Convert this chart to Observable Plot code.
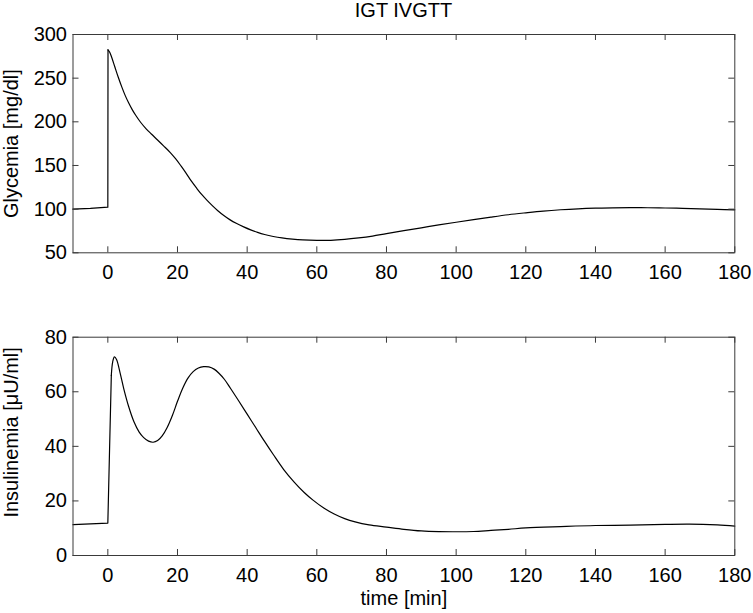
<!DOCTYPE html>
<html>
<head>
<meta charset="utf-8">
<script src="https://cdn.jsdelivr.net/npm/d3@7"></script>
<script src="https://cdn.jsdelivr.net/npm/@observablehq/plot@0.6"></script>
<style>
  html, body { margin: 0; padding: 0; background: #fff; }
  #wrap { position: relative; width: 753px; height: 613px; font-family: "Liberation Sans", Arial, sans-serif; }
  #title { position: absolute; top: 0px; left: 72.5px; width: 662px; text-align: center; font-size: 20px; line-height: 20px; color: #000; }
  .panel { position: absolute; left: 0; }
</style>
</head>
<body>
<div id="wrap">
  <div id="title">IGT IVGTT</div>
  <div id="p1" class="panel" style="top:0px"></div>
  <div id="p2" class="panel" style="top:290px"></div>
</div>
<script>
const title = "IGT IVGTT";
const xLabel = "time [min]";
const glyLabel = "Glycemia [mg/dl]";
const insLabel = "Insulinemia [\u03bcU/ml]";

const xTicks = [0, 20, 40, 60, 80, 100, 120, 140, 160, 180];
const glyTicks = [50, 100, 150, 200, 250, 300];
const insTicks = [0, 20, 40, 60, 80];

// Glycemia [mg/dl] vs time [min]
const glyT = [-10, -5, 0, 0.05, 0.5, 1, 2, 3, 4, 5, 6, 7, 8, 9.4, 11, 12.5, 14.2, 16, 18, 19.5, 21, 22.5, 24, 25.5, 27, 28.5, 30, 31.5, 33.3, 35, 37, 39, 41, 43, 45, 47.5, 50, 53, 56, 60, 64, 68, 72, 76, 80, 85, 90, 95, 100, 105, 110, 115, 120, 125, 130, 135, 140, 145, 150, 155, 160, 165, 170, 175, 180];
const glyV = [100, 100.8, 102.2, 282.5, 280, 275, 263, 251, 240, 230, 221.5, 214, 207.5, 199.5, 192, 186, 179.5, 172.5, 164.5, 157.5, 149.5, 141, 132, 124, 116.5, 110, 104, 98.5, 92.7, 88, 83.5, 79.7, 76.3, 73.4, 71, 68.7, 67, 65.6, 64.7, 64.2, 64.3, 65.3, 67, 69.2, 72, 75.3, 78.6, 81.9, 85, 88, 90.9, 93.6, 95.8, 97.8, 99.3, 100.4, 101.1, 101.5, 101.7, 101.6, 101.3, 100.9, 100.4, 99.8, 99.2];

// Insulinemia [uU/ml] vs time [min]
const insT = [-10, -5, 0, 0.5, 1.0, 1.4, 1.9, 2.5, 3.5, 4.6, 6, 7.5, 9, 10.3, 11.7, 13, 14.3, 15.6, 17, 18.5, 20, 21.5, 23, 24.5, 26, 27.5, 29, 30.5, 31.9, 33.5, 35.2, 37.5, 40, 42.5, 45, 47.5, 50.5, 53.5, 56.3, 59, 62, 65, 68, 71, 75, 80, 85, 90, 95, 100, 105, 110, 115, 120, 130, 140, 150, 160, 167, 175, 180];
const insV = [11.3, 11.6, 11.9, 39, 66, 71, 72.8, 71.8, 67, 61, 54.5, 49, 45.2, 43.2, 41.9, 41.5, 42.1, 43.8, 46.8, 51.2, 56.5, 61.3, 65, 67.4, 68.7, 69.2, 69.1, 68.3, 66.8, 64.5, 61.3, 56.8, 51.8, 46.8, 41.8, 37, 31.5, 26.9, 23.2, 20.2, 17.4, 15.2, 13.5, 12.3, 11.2, 10.4, 9.6, 9.0, 8.75, 8.7, 8.8, 9.2, 9.6, 10.1, 10.6, 11.0, 11.1, 11.4, 11.5, 11.2, 10.8];

const gly = glyT.map((t, i) => ({t, v: glyV[i]}));
const ins = insT.map((t, i) => ({t, v: insV[i]}));

const W = 753;
const frameColor = "#3a3a3a";
const font = "'Liberation Sans', Arial, sans-serif";
const fs = 20;

function panel({lines, yDomain, yTicks, yLabel, height, mt, mb, showX, labelDy}) {
  const ml = 72.5, mr = 18.7;
  const fw = W - ml - mr;
  const fh = height - mt - mb;
  const tl = 6;
  const marks = [
    ...lines.map(([data, curve]) => Plot.line(data, {x: "t", y: "v", curve, stroke: "#000", strokeWidth: 1.2})),
    Plot.frame({stroke: frameColor, strokeWidth: 1}),
    Plot.tickX(xTicks, {x: d => d, insetTop: fh - tl, stroke: frameColor}),
    Plot.tickX(xTicks, {x: d => d, insetBottom: fh - tl, stroke: frameColor}),
    Plot.tickY(yTicks, {y: d => d, insetRight: fw - tl, stroke: frameColor}),
    Plot.tickY(yTicks, {y: d => d, insetLeft: fw - tl, stroke: frameColor}),
    Plot.axisX(xTicks, {tickSize: 0, tickPadding: 12, label: null, fontSize: fs, fill: "#000"}),
    Plot.axisY(yTicks, {tickSize: 0, tickPadding: 6, label: null, fontSize: fs, fill: "#000"}),
    Plot.text([yLabel], {text: d => d, frameAnchor: "left", rotate: -90, dx: -61, dy: labelDy, lineAnchor: "middle", textAnchor: "middle", fontSize: fs, fill: "#000"})
  ];
  if (showX) {
    marks.push(Plot.text([xLabel], {text: d => d, frameAnchor: "bottom", dy: 35, lineAnchor: "top", textAnchor: "middle", fontSize: fs, fill: "#000"}));
  }
  return Plot.plot({
    width: W,
    height,
    marginLeft: ml,
    marginRight: mr,
    marginTop: mt,
    marginBottom: mb,
    style: {fontFamily: font, fontSize: fs + "px", background: "transparent", color: "#000", overflow: "visible"},
    x: {domain: [-10, 180]},
    y: {domain: yDomain},
    marks
  });
}

const glyPre = gly.filter(d => d.t <= 0.05);
const glyPost = gly.filter(d => d.t >= 0.05);
const insPre = ins.filter(d => d.t <= 1.0);
const insPost = ins.filter(d => d.t >= 1.0);

document.getElementById("p1").appendChild(panel({lines: [[glyPre, "linear"], [glyPost, "catmull-rom"]], yDomain: [50, 300], yTicks: glyTicks, yLabel: glyLabel, height: 290, mt: 34, mb: 37.7, showX: false, labelDy: 0}));
document.getElementById("p2").appendChild(panel({lines: [[insPre, "linear"], [insPost, "catmull-rom"]], yDomain: [0, 80], yTicks: insTicks, yLabel: insLabel, height: 323, mt: 46.7, mb: 58, showX: true, labelDy: -14}));
</script>
</body>
</html>
